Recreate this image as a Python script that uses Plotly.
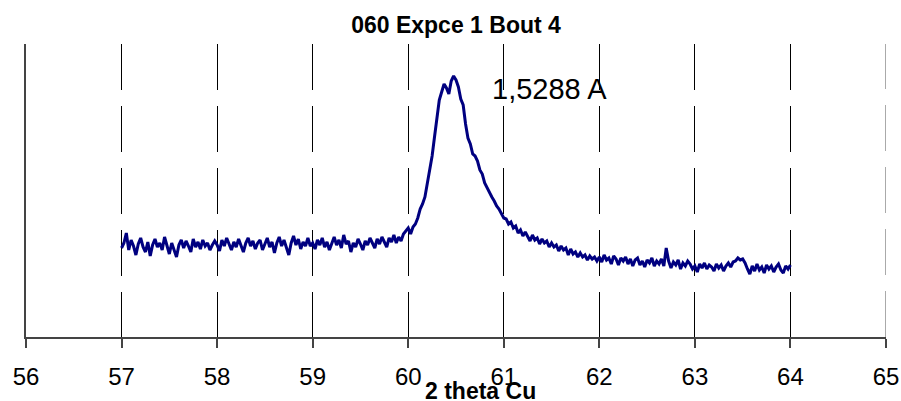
import plotly.graph_objects as go

# 2-theta scan grid
x_start = 57.0
x_step = 0.025

# Intensities (counts), one per step from 57.000 to 64.000
counts = [
    # 57.000 - 57.975
    445, 470, 520, 435, 485, 455, 410, 465, 495, 450,
    425, 475, 405, 460, 490, 450, 470, 435, 500, 455,
    415, 470, 440, 400, 460, 485, 445, 480, 455, 425,
    490, 450, 475, 440, 485, 455, 470, 435, 460, 480,
    # 58.000 - 58.975
    460, 430, 485, 455, 495, 460, 435, 475, 450, 490,
    460, 425, 470, 495, 455, 480, 440, 470, 485, 435,
    465, 495, 450, 475, 420, 470, 500, 455, 485, 445,
    410, 470, 505, 460, 490, 440, 475, 455, 495, 455,
    # 59.000 - 59.975
    470, 440, 485, 460, 495, 450, 475, 435, 470, 500,
    460, 485, 445, 510, 465, 480, 425, 470, 450, 490,
    465, 435, 480, 460, 495, 470, 445, 490, 465, 500,
    470, 450, 495, 475, 510, 470, 500, 480, 515, 530,
    # 60.000 - 60.975
    545, 515, 550, 565, 595, 640, 665, 700, 770, 850,
    905, 1000, 1105, 1185, 1225, 1265, 1245, 1215, 1280, 1305,
    1285, 1250, 1190, 1160, 1065, 995, 965, 915, 905, 880,
    835, 815, 770, 745, 720, 700, 680, 655, 640, 615,
    # 61.000 - 61.975
    595, 590, 565, 575, 545, 555, 520, 535, 505, 525,
    500, 480, 510, 485, 495, 465, 490, 470, 480, 450,
    470, 450, 460, 430, 455, 435, 445, 410, 440, 415,
    425, 400, 420, 400, 410, 385, 405, 390, 400, 380,
    # 62.000 - 62.975
    400, 375, 410, 385, 395, 365, 405, 390, 360, 395,
    380, 400, 365, 390, 355, 385, 395, 360, 380, 350,
    385, 370, 395, 355, 380, 365, 390, 355, 445, 380,
    345, 375, 360, 385, 340, 370, 355, 380, 365, 340,
    # 63.000 - 64.000
    355, 325, 365, 345, 370, 340, 360, 350, 330, 365,
    345, 360, 330, 355, 370, 350, 375, 380, 395, 385,
    390, 370, 340, 315, 355, 330, 365, 335, 350, 320,
    360, 340, 355, 325, 350, 365, 335, 320, 355, 340,
    360,
]
two_theta = [round(x_start + i * x_step, 3) for i in range(len(counts))]

x_ticks = [56, 57, 58, 59, 60, 61, 62, 63, 64, 65]
x_tick_labels = ["56", "57", "58", "59", "60", "61", "62", "63", "64", "65"]

chart_title = "060 Expce 1 Bout 4"
x_title = "2 theta Cu"
peak_label = "1,5288 A"

FONT = "Liberation Sans, Arial, sans-serif"
GRID_DASH = "46px,16px"

fig = go.Figure()
fig.add_trace(go.Scatter(
    x=two_theta, y=counts, mode="lines",
    line=dict(color="#000080", width=3),
    hoverinfo="skip", showlegend=False,
))

fig.update_layout(
    width=901, height=401,
    margin=dict(l=26, r=15, t=44, b=64, autoexpand=False),
    paper_bgcolor="white", plot_bgcolor="white",
    font=dict(family=FONT, color="black"),
    title=dict(text="<b>" + chart_title + "</b>", x=(456 / 901), xanchor="center",
               y=1 - 25 / 401, yanchor="middle", yref="container",
               font=dict(size=23, family=FONT, color="black")),
    xaxis=dict(
        range=[56, 65], tickmode="array", tickvals=x_ticks, ticktext=x_tick_labels,
        showgrid=True, gridcolor="black", gridwidth=1, griddash=GRID_DASH,
        showline=True, linecolor="#444", linewidth=1.5,
        ticks="outside", ticklen=9, tickcolor="#444", tickwidth=1.5,
        ticklabelstandoff=8,
        tickfont=dict(size=24, family=FONT, color="black"),
        zeroline=False, fixedrange=True, automargin=False,
    ),
    yaxis=dict(
        range=[0, 1465], showgrid=False, showticklabels=False, ticks="",
        showline=True, linecolor="#444", linewidth=1.5, zeroline=False,
        automargin=False, fixedrange=True,
    ),
    shapes=[
        dict(type="line", xref="x", yref="paper", x0=65, x1=65, y0=0, y1=1,
             line=dict(color="#555", width=1, dash=GRID_DASH), layer="below"),
    ],
    annotations=[
        dict(text=peak_label, xref="x", yref="paper", x=60.86, y=(337 - 89) / 293,
             xanchor="left", yanchor="middle", showarrow=False,
             font=dict(size=29, family=FONT, color="black")),
        dict(text="<b>" + x_title + "</b>", xref="paper", yref="paper",
             x=(480 - 26) / 860, y=(337 - 391) / 293, xanchor="center", yanchor="middle",
             showarrow=False, font=dict(size=23, family=FONT, color="black")),
    ],
)

fig.write_html(
    "out.html",
    config={"displayModeBar": False},
    post_script="document.body.style.margin='0';document.body.style.overflow='hidden';",
)
